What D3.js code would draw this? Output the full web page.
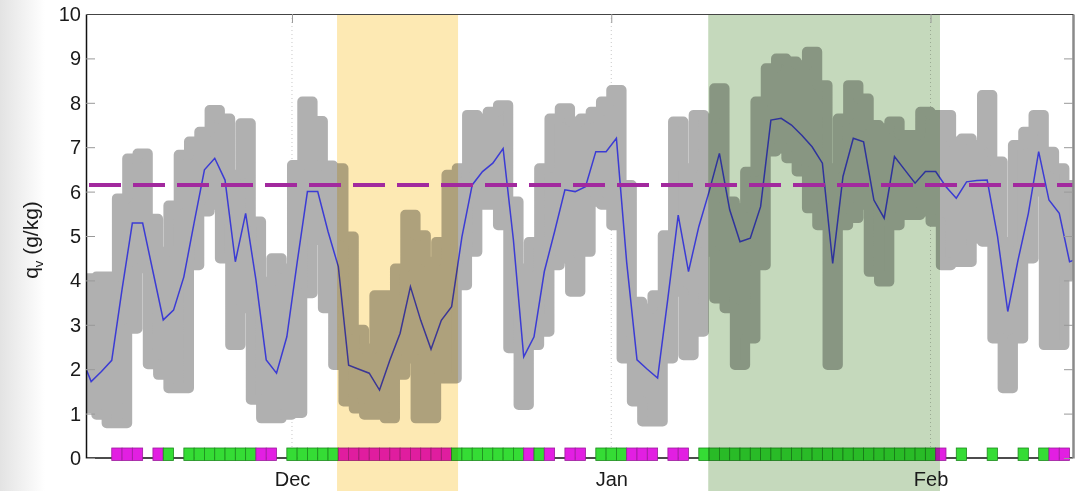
<!DOCTYPE html>
<html>
<head>
<meta charset="utf-8">
<script src="https://cdn.jsdelivr.net/npm/d3@7"></script>
<style>
  body { margin: 0; background: #fff; }
  svg text { font-family: "Liberation Sans", Arial, sans-serif; fill: #1a1a1a; }
</style>
</head>
<body>
<div class="chart"></div>
<script>
// DATA ------------------------------------

// daily mean q_v (g/kg), first value is 10 Nov, plotted at noon
const meanStart = "2007-11-10";
const qvMean = [
  2.3, 1.72, 1.95, 2.2, 3.8, 5.29, 5.29, 4.2, 3.11, 3.33, 4.08,
  5.3, 6.49, 6.75, 6.26, 4.42, 5.51, 4.01, 2.21, 1.91, 2.73,
  4.4, 6.0, 6.0, 5.1, 4.31, 2.09, 2.0, 1.91, 1.53, 2.2, 2.81,
  3.86, 3.1, 2.45, 3.1, 3.41, 4.98, 6.15, 6.45, 6.64, 6.97,
  4.91, 2.28, 2.73, 4.2, 5.1, 6.04, 6.0, 6.11, 6.9, 6.9, 7.2,
  4.4, 2.21, 2.0, 1.8, 3.6, 5.47, 4.2, 5.21, 6.0, 6.86, 5.59,
  4.87, 4.95, 5.66, 7.61, 7.65, 7.5, 7.27, 7.01, 6.64, 4.38,
  6.34, 7.2, 7.12, 5.81, 5.4, 6.79, 6.49, 6.19, 6.45, 6.45,
  6.11, 5.85, 6.22, 6.25, 6.26, 5.0, 3.3, 4.46, 5.51, 6.9,
  5.81, 5.51, 4.42, 4.5
];

// spread of the raw samples: daily top and bottom (g/kg), first value is 11 Nov
const cloudStart = "2007-11-11";
const qvHigh = [
  4.16, 4.2, 4.2, 5.96, 6.86, 6.97, 5.5, 4.76, 5.8, 6.94,
  7.24, 7.46, 7.95, 7.76, 6.49, 7.65, 5.44, 4.08, 4.61, 4.38,
  6.71, 8.14, 7.7, 6.7, 6.64, 5.1, 3.0, 2.58, 3.78, 3.78,
  4.38, 5.59, 5.13, 4.53, 4.98, 6.49, 6.64, 7.84, 7.76, 7.91,
  8.06, 5.89, 4.38, 4.98, 6.64, 7.76, 7.99, 7.69, 7.76, 7.91,
  8.14, 8.4, 6.26, 3.63, 3.48, 3.78, 5.13, 7.69, 6.64, 7.84,
  7.76, 8.44, 5.89, 5.74, 6.56, 8.14, 8.89, 9.11, 9.04, 8.96,
  9.26, 8.51, 6.64, 7.76, 8.51, 8.21, 7.61, 7.54, 7.69, 7.39,
  7.39, 7.91, 7.84, 7.84, 7.24, 7.31, 7.16, 8.29, 6.79, 4.98,
  7.16, 7.46, 7.84, 7.01, 6.64, 6.26
];
const qvLow = [
  1.0, 0.86, 0.67, 0.67, 2.8, 4.16, 2.0, 1.76, 1.46, 1.46,
  4.23, 5.44, 5.59, 4.38, 2.43, 3.26, 1.2, 0.78, 0.78, 0.86,
  0.9, 3.6, 4.8, 3.26, 1.98, 1.16, 1.0, 0.86, 0.86, 0.78,
  1.76, 2.13, 0.78, 0.78, 1.68, 1.68, 3.78, 4.53, 5.59, 5.59,
  5.13, 2.36, 1.08, 2.43, 2.73, 4.23, 4.38, 3.63, 4.53, 5.66,
  5.59, 5.13, 2.13, 1.16, 0.71, 0.71, 2.13, 3.63, 2.2, 2.73,
  4.53, 3.48, 3.26, 1.98, 2.58, 4.23, 6.79, 6.86, 6.64, 6.34,
  5.51, 5.13, 1.98, 5.13, 5.29, 5.59, 4.08, 3.86, 5.13, 5.36,
  5.36, 5.44, 5.21, 4.23, 4.3, 4.3, 4.83, 4.76, 2.58, 1.46,
  2.58, 4.38, 5.89, 2.43, 2.43, 4.0
];

// daily flag row on the x axis, first value is 14 Nov (m = magenta, g = green, - = none)
const flagStart = "2007-11-14";
const flags = (
  "mmm-mg-gggggggmm-ggggg" +
  "mmmmmmmmmmm" +
  "ggggggg" +
  "mgm-mm-gggmmm-mm-" +
  "ggggggggggggggggggggggg" +
  "m-g--g--g-gmm"
).split("");

// shaded periods
const bandStarts = ["2007-12-05T09:00", "2008-01-10T10:00"];
const bandEnds = ["2007-12-17T03:00", "2008-02-01T22:00"];
const bandColors = ["#fde9b3", "#c5d9bc"];

const threshold = 6.15;
const monthTicks = ["2007-12-01", "2008-01-01", "2008-02-01"];
const yTicks = [0, 1, 2, 3, 4, 5, 6, 7, 8, 9, 10];

// CHART INIT ------------------------------

const margin = { top: 14, left: 86, right: 10, bottom: 33 };
const totalWidth = 1083;
const totalHeight = 491;
const width = totalWidth - margin.left - margin.right,
  height = totalHeight - margin.top - margin.bottom;

const parseDay = d3.timeParse("%Y-%m-%d");
const parseTime = d3.timeParse("%Y-%m-%dT%H:%M");

const root = d3
  .select(".chart")
  .append("svg")
  .attr("width", totalWidth)
  .attr("height", totalHeight);

const defs = root.append("defs");
const grad = defs.append("linearGradient").attr("id", "edge");
grad.append("stop").attr("offset", 0).attr("stop-color", "#e3e3e3");
grad.append("stop").attr("offset", 1).attr("stop-color", "#ffffff");
root.append("rect").attr("width", totalWidth).attr("height", totalHeight).attr("fill", "#fff");
root.append("rect").attr("width", 45).attr("height", totalHeight).attr("fill", "url(#edge)");

defs.append("clipPath").attr("id", "plot").append("rect").attr("width", width).attr("height", height);

const svg = root
  .append("g")
  .attr("transform", "translate(" + margin.left + "," + margin.top + ")");

const xScale = d3
  .scaleTime()
  .domain([parseTime("2007-11-11T00:00"), parseTime("2008-02-14T20:00")])
  .range([0, width]);

const yScale = d3.scaleLinear().domain([0, 10]).range([height, 0]);

const dayAt = (start, i) => d3.timeDay.offset(parseDay(start), i);
const noon = (start, i) => d3.timeHour.offset(dayAt(start, i), 12);

// month grid (dotted)
svg
  .selectAll(".grid")
  .data(monthTicks.map(parseDay))
  .join("line")
  .attr("class", "grid")
  .attr("x1", (d) => xScale(d))
  .attr("x2", (d) => xScale(d))
  .attr("y1", 0)
  .attr("y2", height)
  .attr("stroke", "#c8c8c8")
  .attr("stroke-dasharray", "1,3");

const plot = svg.append("g").attr("clip-path", "url(#plot)");

// sample cloud: daily spread as a stepped band, round joins give the dot edge
const dotR = 5;
const cloud = qvHigh.map((h, i) => ({ t: dayAt(cloudStart, i), hi: h, lo: qvLow[i] }));
cloud.push({ t: dayAt(cloudStart, qvHigh.length), hi: qvHigh[qvHigh.length - 1], lo: qvLow[qvLow.length - 1] });

const cloudArea = d3
  .area()
  .curve(d3.curveStepAfter)
  .x((d) => xScale(d.t))
  .y0((d) => yScale(d.lo) - dotR)
  .y1((d) => Math.min(yScale(d.hi) + dotR, yScale(d.lo) - dotR));

plot
  .append("path")
  .datum(cloud)
  .attr("class", "cloud")
  .attr("d", cloudArea)
  .attr("fill", "#b0b0b0")
  .attr("stroke", "#b0b0b0")
  .attr("stroke-width", dotR * 2)
  .attr("stroke-linejoin", "round");

// daily mean line
const meanLine = d3
  .line()
  .x((d, i) => xScale(noon(meanStart, i)))
  .y((d) => yScale(d));

plot
  .append("path")
  .datum(qvMean)
  .attr("d", meanLine)
  .attr("fill", "none")
  .attr("stroke", "#3b3bd4")
  .attr("stroke-width", 1.5);

// x baseline and flag squares
svg
  .append("line")
  .attr("x1", 0)
  .attr("x2", width)
  .attr("y1", height)
  .attr("y2", height)
  .attr("stroke", "#111")
  .attr("stroke-width", 1.5);

const flagData = flags
  .map((f, i) => ({ f, day: dayAt(flagStart, i) }))
  .filter((d) => d.f !== "-");

svg
  .selectAll(".flag")
  .data(flagData)
  .join("rect")
  .attr("class", "flag")
  .attr("x", (d) => xScale(d3.timeHour.offset(d.day, -12)))
  .attr("width", (d) => xScale(d3.timeHour.offset(d.day, 12)) - xScale(d3.timeHour.offset(d.day, -12)))
  .attr("y", height - 10)
  .attr("height", 12.5)
  .attr("fill", (d) => (d.f === "m" ? "#e21fe2" : "#35dc35"))
  .attr("stroke", (d) => (d.f === "m" ? "#9c1d9c" : "#1d8a1d"))
  .attr("stroke-width", 0.8);

// shaded periods, multiplied over everything below
svg
  .selectAll(".band")
  .data(bandStarts.map((s, i) => ({ s: parseTime(s), e: parseTime(bandEnds[i]), c: bandColors[i] })))
  .join("rect")
  .attr("class", "band")
  .attr("x", (d) => xScale(d.s))
  .attr("width", (d) => xScale(d.e) - xScale(d.s))
  .attr("y", 0)
  .attr("height", totalHeight - margin.top)
  .attr("fill", (d) => d.c)
  .style("mix-blend-mode", "multiply");

// threshold
svg
  .append("line")
  .attr("x1", 3)
  .attr("x2", width)
  .attr("y1", yScale(threshold))
  .attr("y2", yScale(threshold))
  .attr("stroke", "#a2299e")
  .attr("stroke-width", 4)
  .attr("stroke-dasharray", "32,12");

// AXES ------------------------------------

const yAxis = d3.axisLeft(yScale).tickValues(yTicks).tickSizeInner(-9).tickSizeOuter(0).tickPadding(5);
svg.append("g").attr("class", "axis y-axis").call(yAxis);

const yAxisRight = d3.axisRight(yScale).tickValues(yTicks).tickSizeInner(-9).tickSizeOuter(0).tickFormat("");
svg.append("g").attr("class", "axis y-right").attr("transform", `translate(${width},0)`).call(yAxisRight);

const xAxisTop = d3.axisTop(xScale).tickValues(monthTicks.map(parseDay)).tickSizeInner(-9).tickSizeOuter(0).tickFormat("");
svg.append("g").attr("class", "axis x-top").call(xAxisTop);

const xAxis = d3
  .axisBottom(xScale)
  .tickValues(monthTicks.map(parseDay))
  .tickSize(0)
  .tickPadding(14)
  .tickFormat(d3.timeFormat("%b"));
svg.append("g").attr("class", "axis x-axis").attr("transform", `translate(0, ${height})`).call(xAxis);

svg.selectAll(".axis text").attr("font-size", 20).attr("fill", "#1a1a1a");
svg.selectAll(".axis .tick line").attr("stroke", "#999");
svg.select(".y-axis .domain").attr("stroke", "#111").attr("stroke-width", 1.5);
svg.select(".x-top .domain").attr("stroke", "#444").attr("stroke-width", 1.2);
svg.select(".y-right .domain").attr("stroke", "#8a8a8a").attr("stroke-width", 2.5);
svg.select(".x-axis .domain").remove();

const yTitle = root
  .append("text")
  .attr("transform", "translate(38, 240) rotate(-90)")
  .attr("text-anchor", "middle")
  .attr("font-size", 21);
yTitle.append("tspan").text("q");
yTitle.append("tspan").attr("font-size", 13).attr("dy", 5).text("v");
yTitle.append("tspan").attr("dy", -5).text(" (g/kg)");
</script>
</body>
</html>
